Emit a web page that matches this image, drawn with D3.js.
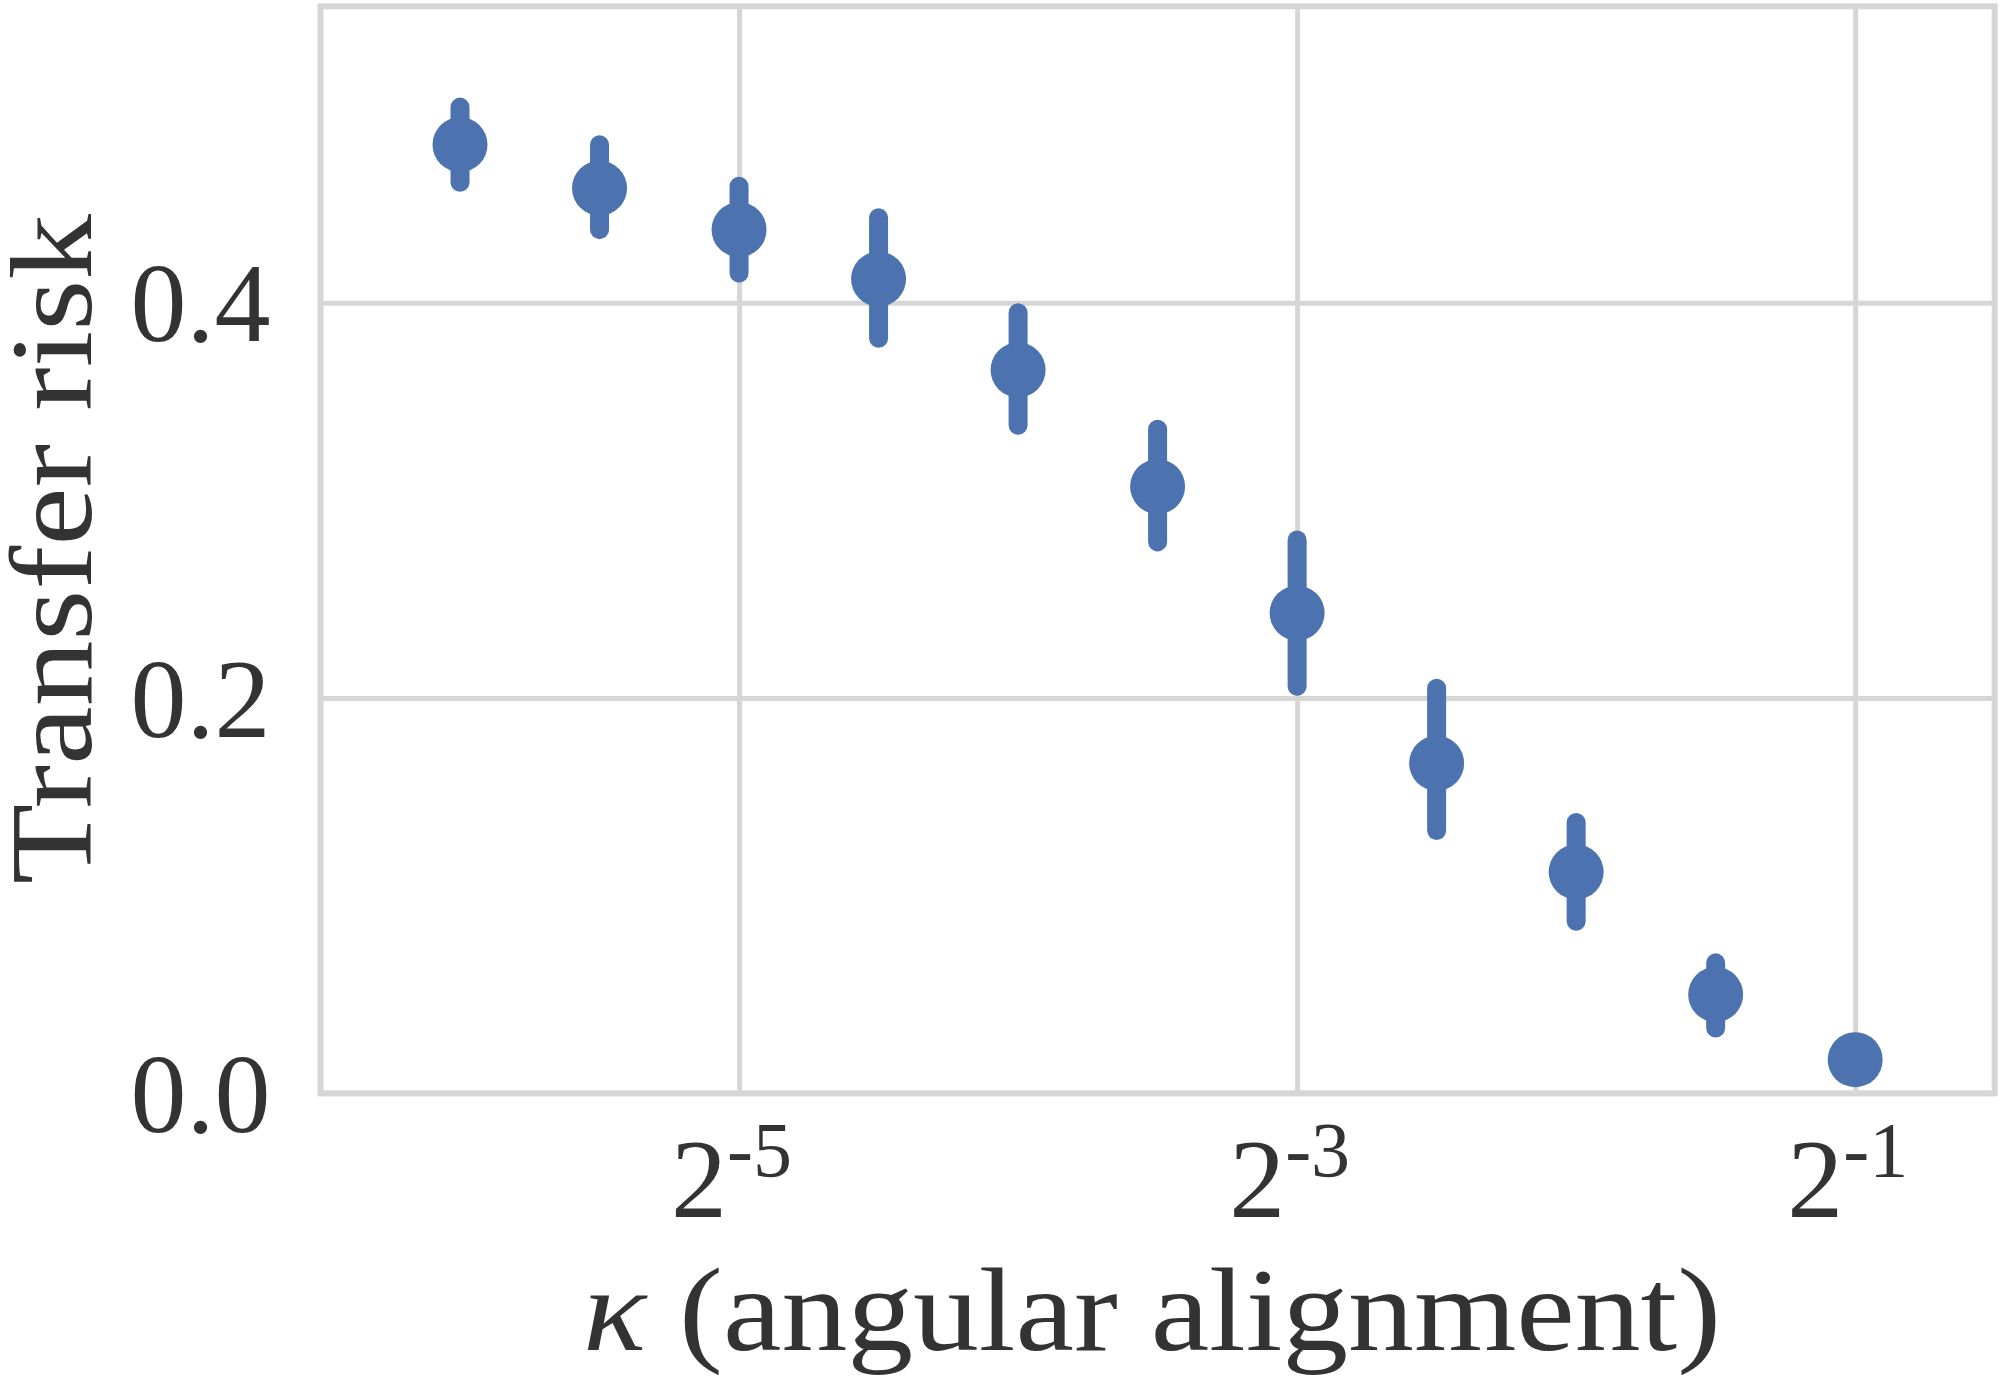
<!DOCTYPE html>
<html>
<head>
<meta charset="utf-8">
<script src="https://cdn.jsdelivr.net/npm/d3@7"></script>
<style>
  html, body { margin: 0; padding: 0; background: #fff; }
  svg { display: block; }
</style>
</head>
<body>
<svg id="chart" width="2000" height="1380"></svg>
<script>
// kappa = 2^exp
const kappaExp = [-6, -5.5, -5, -4.5, -4, -3.5, -3, -2.5, -2, -1.5, -1];
const riskMean = [0.480, 0.458, 0.437, 0.412, 0.366, 0.307, 0.243, 0.167, 0.112, 0.050, 0.017];
const riskLow  = [0.461, 0.437, 0.415, 0.382, 0.338, 0.279, 0.206, 0.133, 0.087, 0.033, 0.013];
const riskHigh = [0.499, 0.480, 0.459, 0.443, 0.395, 0.336, 0.280, 0.205, 0.137, 0.066, 0.021];
const xTickExp = [-5, -3, -1];
const yTicks = [0.0, 0.2, 0.4];
const yTickLabels = ["0.0", "0.2", "0.4"];

const points = kappaExp.map((e, i) => ({
  kappa: Math.pow(2, e),
  mean: riskMean[i],
  lo: riskLow[i],
  hi: riskHigh[i]
}));

const margin = { top: 6.3, right: 5.3, bottom: 286.7, left: 320.5 };
const width = 2000 - margin.left - margin.right;
const height = 1380 - margin.top - margin.bottom;

const blue = "#4c72b0";
const gridColor = "#d6d6d6";
const textColor = "#333333";
const font = "'Liberation Serif', 'Times New Roman', serif";

const svg = d3.select("#chart");
const g = svg.append("g")
  .attr("transform", `translate(${margin.left},${margin.top})`);

const x = d3.scaleLog().base(2)
  .domain([Math.pow(2, -6.5), Math.pow(2, -0.5)])
  .range([0, width]);

const y = d3.scaleLinear()
  .domain([0, 0.55])
  .range([height, 0]);

// grid lines
const xGrid = g.append("g")
  .attr("transform", `translate(0,${height})`)
  .call(d3.axisBottom(x)
    .tickValues(xTickExp.map(e => Math.pow(2, e)))
    .tickSize(-height)
    .tickFormat(""));
const yGrid = g.append("g")
  .call(d3.axisLeft(y)
    .tickValues(yTicks)
    .tickSize(-width)
    .tickFormat(""));
[xGrid, yGrid].forEach(ax => {
  ax.select(".domain").remove();
  ax.selectAll(".tick line")
    .attr("stroke", gridColor)
    .attr("stroke-width", 5);
});

// frame
g.append("rect")
  .attr("x", 0).attr("y", 0)
  .attr("width", width).attr("height", height)
  .attr("fill", "none")
  .attr("stroke", gridColor)
  .attr("stroke-width", 6);

// x tick labels: 2^{exp}
xGrid.selectAll(".tick").each(function (d) {
  const e = Math.round(Math.log2(d));
  const t = d3.select(this).append("text")
    .attr("x", -8)
    .attr("y", 124)
    .attr("text-anchor", "middle")
    .attr("fill", textColor)
    .style("font-family", font)
    .style("font-size", "112px");
  t.append("tspan").text("2");
  t.append("tspan")
    .attr("dy", -41)
    .style("font-size", "78px")
    .text(String(e));
});

// y tick labels
yGrid.selectAll(".tick").each(function (d, i) {
  d3.select(this).append("text")
    .attr("x", -50)
    .attr("dy", "0.34em")
    .attr("text-anchor", "end")
    .attr("fill", textColor)
    .style("font-family", font)
    .style("font-size", "112px")
    .text(yTickLabels[i]);
});

// error bars
g.selectAll("line.err")
  .data(points)
  .enter()
  .append("line")
  .attr("class", "err")
  .attr("x1", d => x(d.kappa))
  .attr("x2", d => x(d.kappa))
  .attr("y1", d => y(d.lo))
  .attr("y2", d => y(d.hi))
  .attr("stroke", blue)
  .attr("stroke-width", 19)
  .attr("stroke-linecap", "round");

// markers
g.selectAll("circle.pt")
  .data(points)
  .enter()
  .append("circle")
  .attr("class", "pt")
  .attr("cx", d => x(d.kappa))
  .attr("cy", d => y(d.mean))
  .attr("r", 27.5)
  .attr("fill", blue);

// axis labels
const xLabel = svg.append("text")
  .attr("x", 1152)
  .attr("y", 1350)
  .attr("text-anchor", "middle")
  .attr("fill", textColor)
  .attr("textLength", 1138)
  .attr("lengthAdjust", "spacingAndGlyphs")
  .style("font-family", font)
  .style("font-size", "118px");
xLabel.append("tspan").style("font-style", "italic").text("κ");
xLabel.append("tspan").text(" (angular alignment)");

svg.append("text")
  .attr("transform", "translate(91,549) rotate(-90)")
  .attr("text-anchor", "middle")
  .attr("fill", textColor)
  .attr("textLength", 670)
  .attr("lengthAdjust", "spacingAndGlyphs")
  .style("font-family", font)
  .style("font-size", "116px")
  .text("Transfer risk");
</script>
</body>
</html>
